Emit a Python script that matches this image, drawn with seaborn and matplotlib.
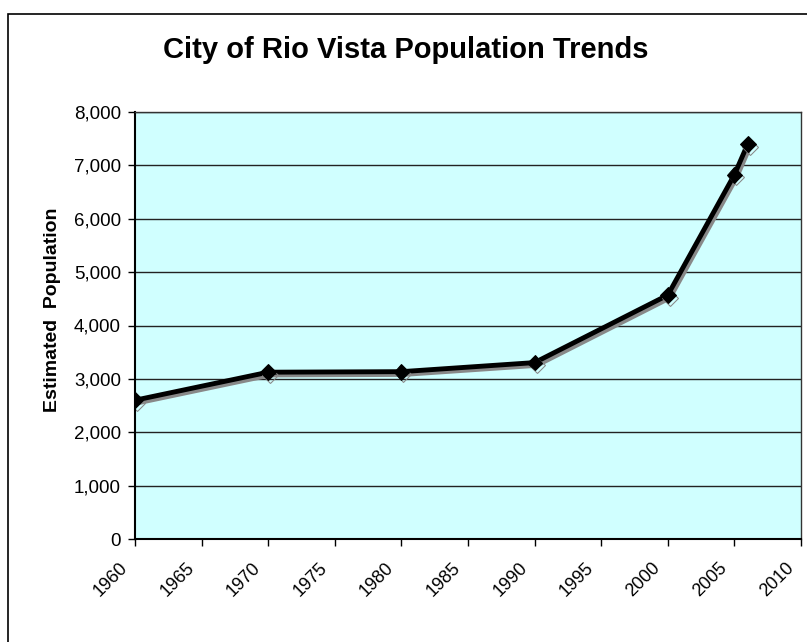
import matplotlib
matplotlib.use("Agg")
import matplotlib.pyplot as plt
import matplotlib.patheffects as pe
import matplotlib.transforms as mtransforms
from matplotlib.patches import Rectangle
from matplotlib.ticker import FuncFormatter, MultipleLocator
import seaborn as sns
import pandas as pd

years = [1960, 1970, 1980, 1990, 2000, 2005, 2006]
population = [2600, 3125, 3135, 3305, 4570, 6825, 7400]
title = "City of Rio Vista Population Trends"
y_label = "Estimated  Population"

df = pd.DataFrame({"Year": years, "Population": population})

sns.set_theme(style="white")
plt.rcParams["font.family"] = ["Liberation Sans", "DejaVu Sans"]
plt.rcParams["text.color"] = "black"

W, H = 807, 642
fig = plt.figure(figsize=(W / 100, H / 100), dpi=100)
fig.patch.set_facecolor("white")

# outer chart border
fig.add_artist(Rectangle((8 / W, 0 - 0.01), 1.02 - 8 / W, 1 - 14 / H + 0.01,
                         transform=fig.transFigure, fill=False,
                         edgecolor="black", linewidth=1.2))

ax = fig.add_axes([135 / W, 1 - 539 / H, (801 - 135) / W, (539 - 112) / H])
ax.set_facecolor("#D0FFFF")

sns.lineplot(data=df, x="Year", y="Population", ax=ax, color="black",
             linewidth=3.5, marker="D", markersize=8, markeredgecolor="black",
             markerfacecolor="black",
             path_effects=[pe.SimpleLineShadow(offset=(1.5, -2), shadow_color="#888888", alpha=1.0),
                           pe.Normal()])

ax.set_xlim(1960, 2010)
ax.set_ylim(0, 8000)
ax.xaxis.set_major_locator(MultipleLocator(5))
ax.yaxis.set_major_locator(MultipleLocator(1000))
ax.yaxis.set_major_formatter(FuncFormatter(lambda v, p: f"{int(v):,}"))
ax.grid(axis="y", color="#222222", linewidth=1.0)
ax.grid(axis="x", visible=False)
ax.set_axisbelow(True)

for s in ["top", "right"]:
    ax.spines[s].set_color("#333333")
    ax.spines[s].set_linewidth(1.0)
for s in ["left", "bottom"]:
    ax.spines[s].set_color("black")
    ax.spines[s].set_linewidth(1.5)

ax.tick_params(axis="both", which="major", direction="out", length=5, width=1,
               color="black", labelcolor="black", bottom=True, left=True)
ax.tick_params(axis="y", labelsize=13.5, pad=5)
ax.tick_params(axis="x", labelsize=13, pad=14)
offset = mtransforms.ScaledTranslation(-10 / 100, 0, fig.dpi_scale_trans)
for lab in ax.get_xticklabels():
    lab.set_rotation(45)
    lab.set_ha("right")
    lab.set_va("center")
    lab.set_rotation_mode("anchor")
    lab.set_transform(lab.get_transform() + offset)

ax.set_xlabel("")
ax.set_ylabel("")
fig.text(53 / W, 1 - 310 / H, y_label, rotation=90, ha="center", va="center",
         fontsize=14, fontweight="bold")
fig.text(406 / W, 1 - 50 / H, title, ha="center", va="center",
         fontsize=21, fontweight="bold")

fig.savefig("out.png", dpi=100)
